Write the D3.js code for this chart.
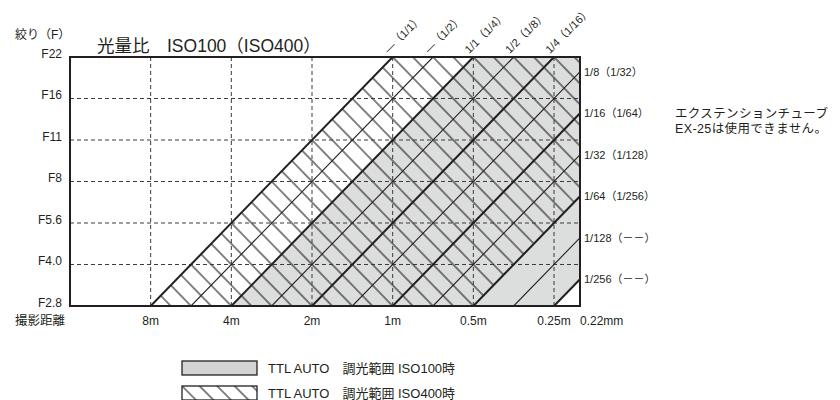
<!DOCTYPE html>
<html>
<head>
<meta charset="utf-8">
<script src="https://cdn.jsdelivr.net/npm/d3@7/dist/d3.min.js"></script>
<style>
  html, body { margin: 0; padding: 0; background: #fff; }
  svg { display: block; }
  text { fill: #231f20; font-family: "Liberation Sans", Arial, "Noto Sans CJK JP", sans-serif; }
</style>
</head>
<body>
<svg id="chart" width="840" height="400"></svg>
<script>
// Shooting distance grid (metres) and its labels
const distanceTicks = [8, 4, 2, 1, 0.5, 0.25];
const distanceLabels = ["8m", "4m", "2m", "1m", "0.5m", "0.25m"];
const distanceDomain = [16, 0.2];

// Aperture grid (F-number) and its labels
const apertureValues = [2.8, 3.96, 5.6, 7.92, 11.2, 15.84, 22.4];
const apertureLabels = ["F2.8", "F4.0", "F5.6", "F8", "F11", "F16", "F22"];

// Flash output levels: guide number (ISO100 equivalent, metres) per level
const guideNumbers = [22.4, 15.84, 11.2, 7.92, 5.6, 3.96, 2.8, 1.98, 1.4, 0.99, 0.7];
const powerLabels = [
  "—（1/1）", "—（1/2）", "1/1（1/4）", "1/2（1/8）", "1/4（1/16）",
  "1/8（1/32）", "1/16（1/64）", "1/32（1/128）", "1/64（1/256）",
  "1/128（－－）", "1/256（－－）"
];

// TTL auto ranges, as first/last output level index
const iso100Range = [2, 10];
const iso400Range = [0, 8];

const legendLabels = ["TTL AUTO　調光範囲 ISO100時", "TTL AUTO　調光範囲 ISO400時"];

const svg = d3.select("#chart");
const plot = { left: 70, right: 580, top: 57, bottom: 306 };

const x = d3.scaleLog().domain(distanceDomain).range([plot.left, plot.right]);
const y = d3.scaleLog().domain([apertureValues[0], apertureValues[apertureValues.length - 1]])
  .range([plot.bottom, plot.top]);
const fMin = y.domain()[0], fMax = y.domain()[1];

const defs = svg.append("defs");
defs.append("clipPath").attr("id", "plot-clip")
  .append("rect")
  .attr("x", plot.left).attr("y", plot.top)
  .attr("width", plot.right - plot.left).attr("height", plot.bottom - plot.top);

// Hatch runs along lines of constant distance/F-number
const hdx = x(2 * 1) - x(1), hdy = y(2 * fMin) - y(fMin);
const hatchAngle = Math.atan2(-hdx, -hdy) * 180 / Math.PI;
const stopWidth = x(1) - x(2);
const hatchStep = (stopWidth / 4) * Math.abs(Math.cos(hatchAngle * Math.PI / 180));

function addHatch(id, step, angle, ox, oy) {
  const p = defs.append("pattern").attr("id", id)
    .attr("patternUnits", "userSpaceOnUse")
    .attr("width", step).attr("height", 40)
    .attr("patternTransform", `translate(${ox},${oy}) rotate(${-angle})`);
  p.append("path")
    .attr("d", `M0,0V40M${step},0V40`)
    .attr("stroke", "#231f20").attr("stroke-width", 1.1).attr("fill", "none");
}
addHatch("hatch", hatchStep, hatchAngle, x(1), y(fMin));

const body = svg.append("g").attr("clip-path", "url(#plot-clip)");

function band(range) {
  const a = guideNumbers[range[0]], b = guideNumbers[range[1]];
  return [[a / fMin, fMin], [a / fMax, fMax], [b / fMax, fMax], [b / fMin, fMin]]
    .map(d => [x(d[0]), y(d[1])]);
}

body.append("polygon")
  .attr("points", band(iso100Range).join(" "))
  .attr("fill", "#dcdddd");
body.append("polygon")
  .attr("points", band(iso400Range).join(" "))
  .attr("fill", "url(#hatch)");

// Dashed grid
body.selectAll("line.vgrid").data(distanceTicks).join("line")
  .attr("class", "vgrid")
  .attr("x1", d => x(d)).attr("x2", d => x(d))
  .attr("y1", plot.top).attr("y2", plot.bottom)
  .attr("stroke", "#3a3a3a").attr("stroke-width", 1).attr("stroke-dasharray", "4,3");
body.selectAll("line.hgrid").data(apertureValues.slice(1, -1)).join("line")
  .attr("class", "hgrid")
  .attr("x1", plot.left).attr("x2", plot.right)
  .attr("y1", d => y(d)).attr("y2", d => y(d))
  .attr("stroke", "#3a3a3a").attr("stroke-width", 1).attr("stroke-dasharray", "4,3");

// Output level lines: distance = guide number / F
body.selectAll("line.power").data(guideNumbers).join("line")
  .attr("class", "power")
  .attr("x1", d => x(d / fMin)).attr("y1", y(fMin))
  .attr("x2", d => x(d / fMax)).attr("y2", y(fMax))
  .attr("stroke", "#231f20")
  .attr("stroke-width", (d, i) => i % 2 === 0 ? 2 : 1.1);

// Frame
svg.append("rect")
  .attr("x", plot.left).attr("y", plot.top)
  .attr("width", plot.right - plot.left).attr("height", plot.bottom - plot.top)
  .attr("fill", "none").attr("stroke", "#231f20").attr("stroke-width", 2);

// Level labels: along the top edge, then down the right edge
const levels = guideNumbers.map((g, i) => ({ g, label: powerLabels[i] }));
const dRight = distanceDomain[1];
levels.forEach(d => {
  const xt = x(d.g / fMax);
  if (xt <= plot.right) {
    svg.append("text")
      .attr("transform", `translate(${xt - 4},${plot.top - 3}) rotate(-45)`)
      .attr("font-size", 11)
      .text(d.label);
  } else {
    svg.append("text")
      .attr("x", plot.right + 4).attr("y", y(d.g / dRight))
      .attr("dy", "0.36em")
      .attr("font-size", 11)
      .text(d.label);
  }
});

// Axis labels
svg.selectAll("text.ytick").data(apertureValues).join("text")
  .attr("class", "ytick")
  .attr("x", 62).attr("y", d => y(d) + 1)
  .attr("text-anchor", "end").attr("font-size", 12)
  .text((d, i) => apertureLabels[i]);
svg.selectAll("text.xtick").data(distanceTicks).join("text")
  .attr("class", "xtick")
  .attr("x", d => x(d)).attr("y", plot.bottom + 19)
  .attr("text-anchor", "middle").attr("font-size", 12)
  .text((d, i) => distanceLabels[i]);
svg.append("text").attr("x", plot.right).attr("y", plot.bottom + 19)
  .attr("font-size", 12).text("0.22mm");

svg.append("text").attr("x", 15).attr("y", 39).attr("font-size", 12)
  .text("絞り（F）");
svg.append("text").attr("x", 15).attr("y", plot.bottom + 19).attr("font-size", 12.5)
  .text("撮影距離");
svg.append("text").attr("x", 97).attr("y", 52).attr("font-size", 17.5)
  .text("光量比　ISO100（ISO400）");

svg.append("text").attr("x", 675).attr("y", 117.5).attr("font-size", 12.5)
  .attr("textLength", 153).attr("lengthAdjust", "spacing")
  .text("エクステンションチューブ");
svg.append("text").attr("x", 675).attr("y", 132.5).attr("font-size", 12.5)
  .attr("textLength", 152).attr("lengthAdjust", "spacing")
  .text("EX-25は使用できません。");

// Legend
const legendBox = { x: 182, w: 75, h: 14 };
const legendY = [361, 386];
addHatch("hatch-legend", 12.4, 45, legendBox.x, legendY[1]);
const fills = ["#d3d3d3", "url(#hatch-legend)"];
legendLabels.forEach((t, i) => {
  svg.append("rect")
    .attr("x", legendBox.x).attr("y", legendY[i])
    .attr("width", legendBox.w).attr("height", legendBox.h)
    .attr("fill", fills[i]).attr("stroke", "#231f20").attr("stroke-width", 1.3);
  svg.append("text")
    .attr("x", 268).attr("y", legendY[i] + 12)
    .attr("font-size", 13)
    .text(t);
});
</script>
</body>
</html>
